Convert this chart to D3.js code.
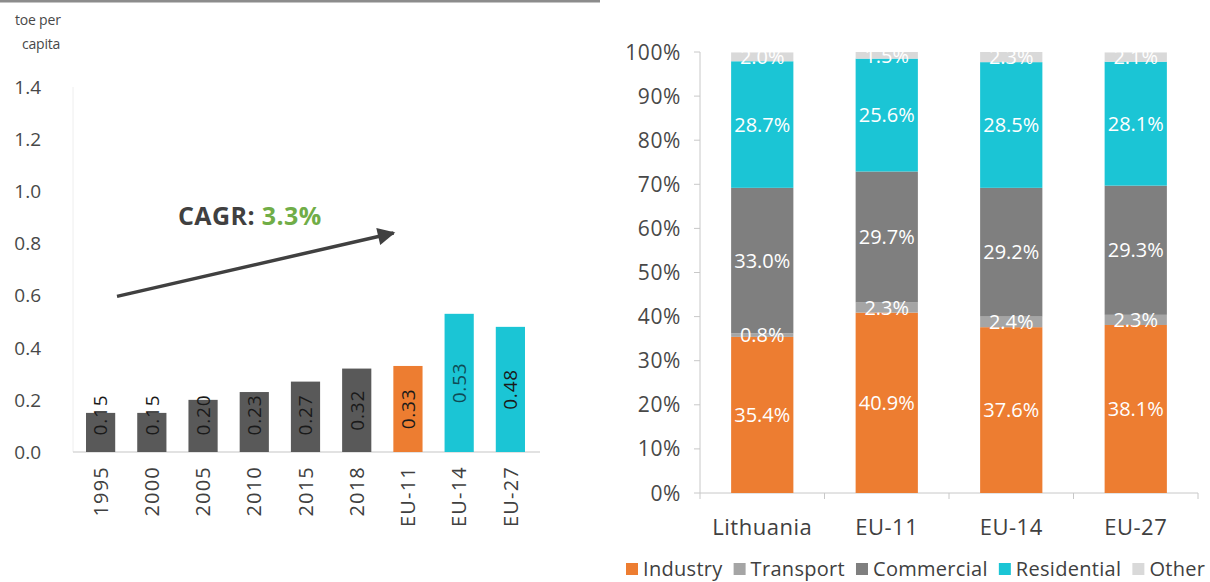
<!DOCTYPE html>
<html>
<head>
<meta charset="utf-8">
<script src="https://cdn.jsdelivr.net/npm/d3@7"></script>
<style>
  html, body { margin: 0; padding: 0; background: #fff; overflow: hidden; }
  svg { display: block; font-family: "Open Sans", sans-serif; }
</style>
</head>
<body>
<div id="chart"></div>
<script>
// left panel: toe per capita
const years = ["1995", "2000", "2005", "2010", "2015", "2018", "EU-11", "EU-14", "EU-27"];
const perCapita = [0.15, 0.15, 0.20, 0.23, 0.27, 0.32, 0.33, 0.53, 0.48];
const perCapitaTicks = [0, 0.2, 0.4, 0.6, 0.8, 1.0, 1.2, 1.4];

// right panel: share by sector
const regions = ["Lithuania", "EU-11", "EU-14", "EU-27"];
const sectors = ["Industry", "Transport", "Commercial", "Residential", "Other"];
const industry = [35.4, 40.9, 37.6, 38.1];
const transport = [0.8, 2.3, 2.4, 2.3];
const commercial = [33.0, 29.7, 29.2, 29.3];
const residential = [28.7, 25.6, 28.5, 28.1];
const other = [2.0, 1.5, 2.3, 2.1];

const W = 1210, H = 582;
const DARK = "#595959", ORANGE = "#ED7D31", CYAN = "#1BC5D5";
const TEXT = "#484848";

const svg = d3.select("#chart").append("svg")
  .attr("width", W).attr("height", H)
  .attr("viewBox", [0, 0, W, H]);

svg.append("defs").append("marker")
  .attr("id", "arrow")
  .attr("viewBox", "0 0 10 10")
  .attr("refX", 9).attr("refY", 5)
  .attr("markerWidth", 6).attr("markerHeight", 5)
  .attr("markerUnits", "strokeWidth")
  .attr("orient", "auto")
  .append("path").attr("d", "M0,0 L10,5 L0,10 Z").attr("fill", "#404040");

// ---------- left chart ----------
const left = svg.append("g");
left.append("line")
  .attr("x1", 0).attr("x2", 600).attr("y1", 1).attr("y2", 1)
  .attr("stroke", "#8c8c8c").attr("stroke-width", 3);

const x1 = d3.scaleBand().domain(years).range([75, 536]).paddingInner(0.43).paddingOuter(0.215);
const y1 = d3.scaleLinear().domain([0, 1.4]).range([452, 87]);

left.append("text").attr("x", 15).attr("y", 25)
  .attr("font-size", 14).attr("letter-spacing", -0.2).attr("fill", TEXT).text("toe per");
left.append("text").attr("x", 22).attr("y", 49)
  .attr("font-size", 14).attr("letter-spacing", -0.2).attr("fill", TEXT).text("capita");

left.append("line")
  .attr("x1", 73).attr("x2", 73).attr("y1", y1(1.4)).attr("y2", y1(0))
  .attr("stroke", "#eeeeee");
left.append("line")
  .attr("x1", 73).attr("x2", 540).attr("y1", y1(0)).attr("y2", y1(0))
  .attr("stroke", "#d9d9d9").attr("stroke-width", 1.5);

left.selectAll(".ytick").data(perCapitaTicks).join("text")
  .attr("class", "ytick")
  .attr("x", 41).attr("y", d => y1(d)).attr("dy", "0.36em")
  .attr("text-anchor", "end").attr("font-size", 19).attr("fill", TEXT)
  .text(d => d.toFixed(1));

const barColor = c => c === "EU-11" ? ORANGE : (c.startsWith("EU") ? CYAN : DARK);

left.selectAll(".bar").data(years).join("rect")
  .attr("class", "bar")
  .attr("x", d => x1(d)).attr("width", x1.bandwidth())
  .attr("y", (d, i) => y1(perCapita[i]))
  .attr("height", (d, i) => y1(0) - y1(perCapita[i]))
  .attr("fill", barColor);

left.selectAll(".val").data(years).join("text")
  .attr("class", "val")
  .attr("transform", (d, i) => {
    const cx = x1(d) + x1.bandwidth() / 2;
    const cy = Math.min((y1(perCapita[i]) + y1(0)) / 2, y1(0) - 37);
    return `translate(${cx},${cy}) rotate(-90)`;
  })
  .attr("dy", "0.36em").attr("text-anchor", "middle")
  .attr("font-size", 19).attr("letter-spacing", 0.8)
  .attr("fill", d => d.startsWith("EU-1") && d !== "EU-11" ? "#0f4b55" : "#1a1a1a")
  .text((d, i) => perCapita[i].toFixed(2));

left.selectAll(".xlab").data(years).join("text")
  .attr("class", "xlab")
  .attr("transform", d => `translate(${x1(d) + x1.bandwidth() / 2},466) rotate(-90)`)
  .attr("dy", "0.36em").attr("text-anchor", "end")
  .attr("font-size", 20).attr("letter-spacing", 1.2).attr("fill", "#404040")
  .text(d => d);

// CAGR annotation, positioned in band/value space
const step = x1.step();
const bandPos = i => x1(years[0]) + x1.bandwidth() / 2 + i * step;
left.append("line")
  .attr("x1", bandPos(0.32)).attr("y1", y1(0.597))
  .attr("x2", bandPos(5.72)).attr("y2", y1(0.84))
  .attr("stroke", "#404040").attr("stroke-width", 3.5)
  .attr("marker-end", "url(#arrow)");

const cagr = left.append("text").attr("x", 178).attr("y", 225)
  .attr("font-size", 25).attr("letter-spacing", 0.4).attr("font-weight", "bold");
cagr.append("tspan").attr("fill", "#404040").text("CAGR: ");
cagr.append("tspan").attr("fill", "#70AD47").text("3.3%");

// ---------- right chart ----------
const right = svg.append("g");
const shares = [industry, transport, commercial, residential, other];
const sectorColor = d3.scaleOrdinal().domain(sectors)
  .range([ORANGE, "#A5A5A5", "#7F7F7F", CYAN, "#D9D9D9"]);

const table = regions.map((r, i) => {
  const row = { region: r };
  sectors.forEach((s, k) => { row[s] = shares[k][i] / 100; });
  return row;
});
const stacked = d3.stack().keys(sectors)(table);

const x2 = d3.scaleBand().domain(regions).range([700, 1198]).paddingInner(0.5).paddingOuter(0.25);
const y2 = d3.scaleLinear().domain([0, 1]).range([493, 52]);

right.append("line")
  .attr("x1", 700).attr("x2", 700).attr("y1", y2(1)).attr("y2", y2(0))
  .attr("stroke", "#c8c8c8");
right.selectAll(".ytick2").data(d3.range(0, 1.01, 0.1)).join("line")
  .attr("class", "ytick2")
  .attr("x1", 694).attr("x2", 700).attr("y1", d => y2(d)).attr("y2", d => y2(d))
  .attr("stroke", "#c8c8c8");
right.selectAll(".ylab2").data(d3.range(0, 1.01, 0.1)).join("text")
  .attr("class", "ylab2")
  .attr("x", 681).attr("y", d => y2(d)).attr("dy", "0.36em")
  .attr("text-anchor", "end").attr("font-size", 21).attr("letter-spacing", 0.6).attr("fill", TEXT)
  .text(d => d3.format(".0%")(d));

right.append("line")
  .attr("x1", 700).attr("x2", 1198).attr("y1", y2(0)).attr("y2", y2(0))
  .attr("stroke", "#c8c8c8");
// tick marks at the band boundaries
const bounds = regions.map(r => x2(r) - x2.step() * x2.paddingInner() / 2)
  .concat([x2(regions[regions.length - 1]) + x2.bandwidth() + x2.step() * x2.paddingInner() / 2]);
right.selectAll(".xtick2").data(bounds).join("line")
  .attr("class", "xtick2")
  .attr("x1", d => d).attr("x2", d => d)
  .attr("y1", y2(0)).attr("y2", y2(0) + 6)
  .attr("stroke", "#c8c8c8");

const layers = right.selectAll(".layer").data(stacked).join("g")
  .attr("class", "layer").attr("fill", d => sectorColor(d.key));
layers.selectAll("rect").data(d => d).join("rect")
  .attr("x", d => x2(d.data.region)).attr("width", x2.bandwidth())
  .attr("y", d => y2(d[1])).attr("height", d => y2(d[0]) - y2(d[1]));

const labels = right.append("g");
stacked.forEach(layer => {
  labels.selectAll(null).data(layer).join("text")
    .attr("x", d => x2(d.data.region) + x2.bandwidth() / 2)
    .attr("y", d => y2((d[0] + d[1]) / 2)).attr("dy", "0.36em")
    .attr("text-anchor", "middle").attr("font-size", 20).attr("fill", "#fff")
    .text(d => (d.data[layer.key] * 100).toFixed(1) + "%");
});

right.selectAll(".xlab2").data(regions).join("text")
  .attr("class", "xlab2")
  .attr("x", d => x2(d) + x2.bandwidth() / 2).attr("y", 527).attr("dy", "0.36em")
  .attr("text-anchor", "middle").attr("font-size", 22).attr("letter-spacing", 0.5).attr("fill", "#404040")
  .text(d => d);

// legend
const legend = right.append("g").attr("transform", "translate(626,569)");
let lx = 0;
sectors.forEach(s => {
  const item = legend.append("g").attr("transform", `translate(${lx},0)`);
  item.append("rect").attr("x", 0).attr("y", -6).attr("width", 12).attr("height", 12)
    .attr("fill", sectorColor(s));
  const t = item.append("text").attr("x", 17).attr("y", 0).attr("dy", "0.34em")
    .attr("font-size", 20).attr("letter-spacing", 0.3).attr("fill", "#404040").text(s);
  lx += 17 + t.node().getComputedTextLength() + 11;
});
</script>
</body>
</html>
